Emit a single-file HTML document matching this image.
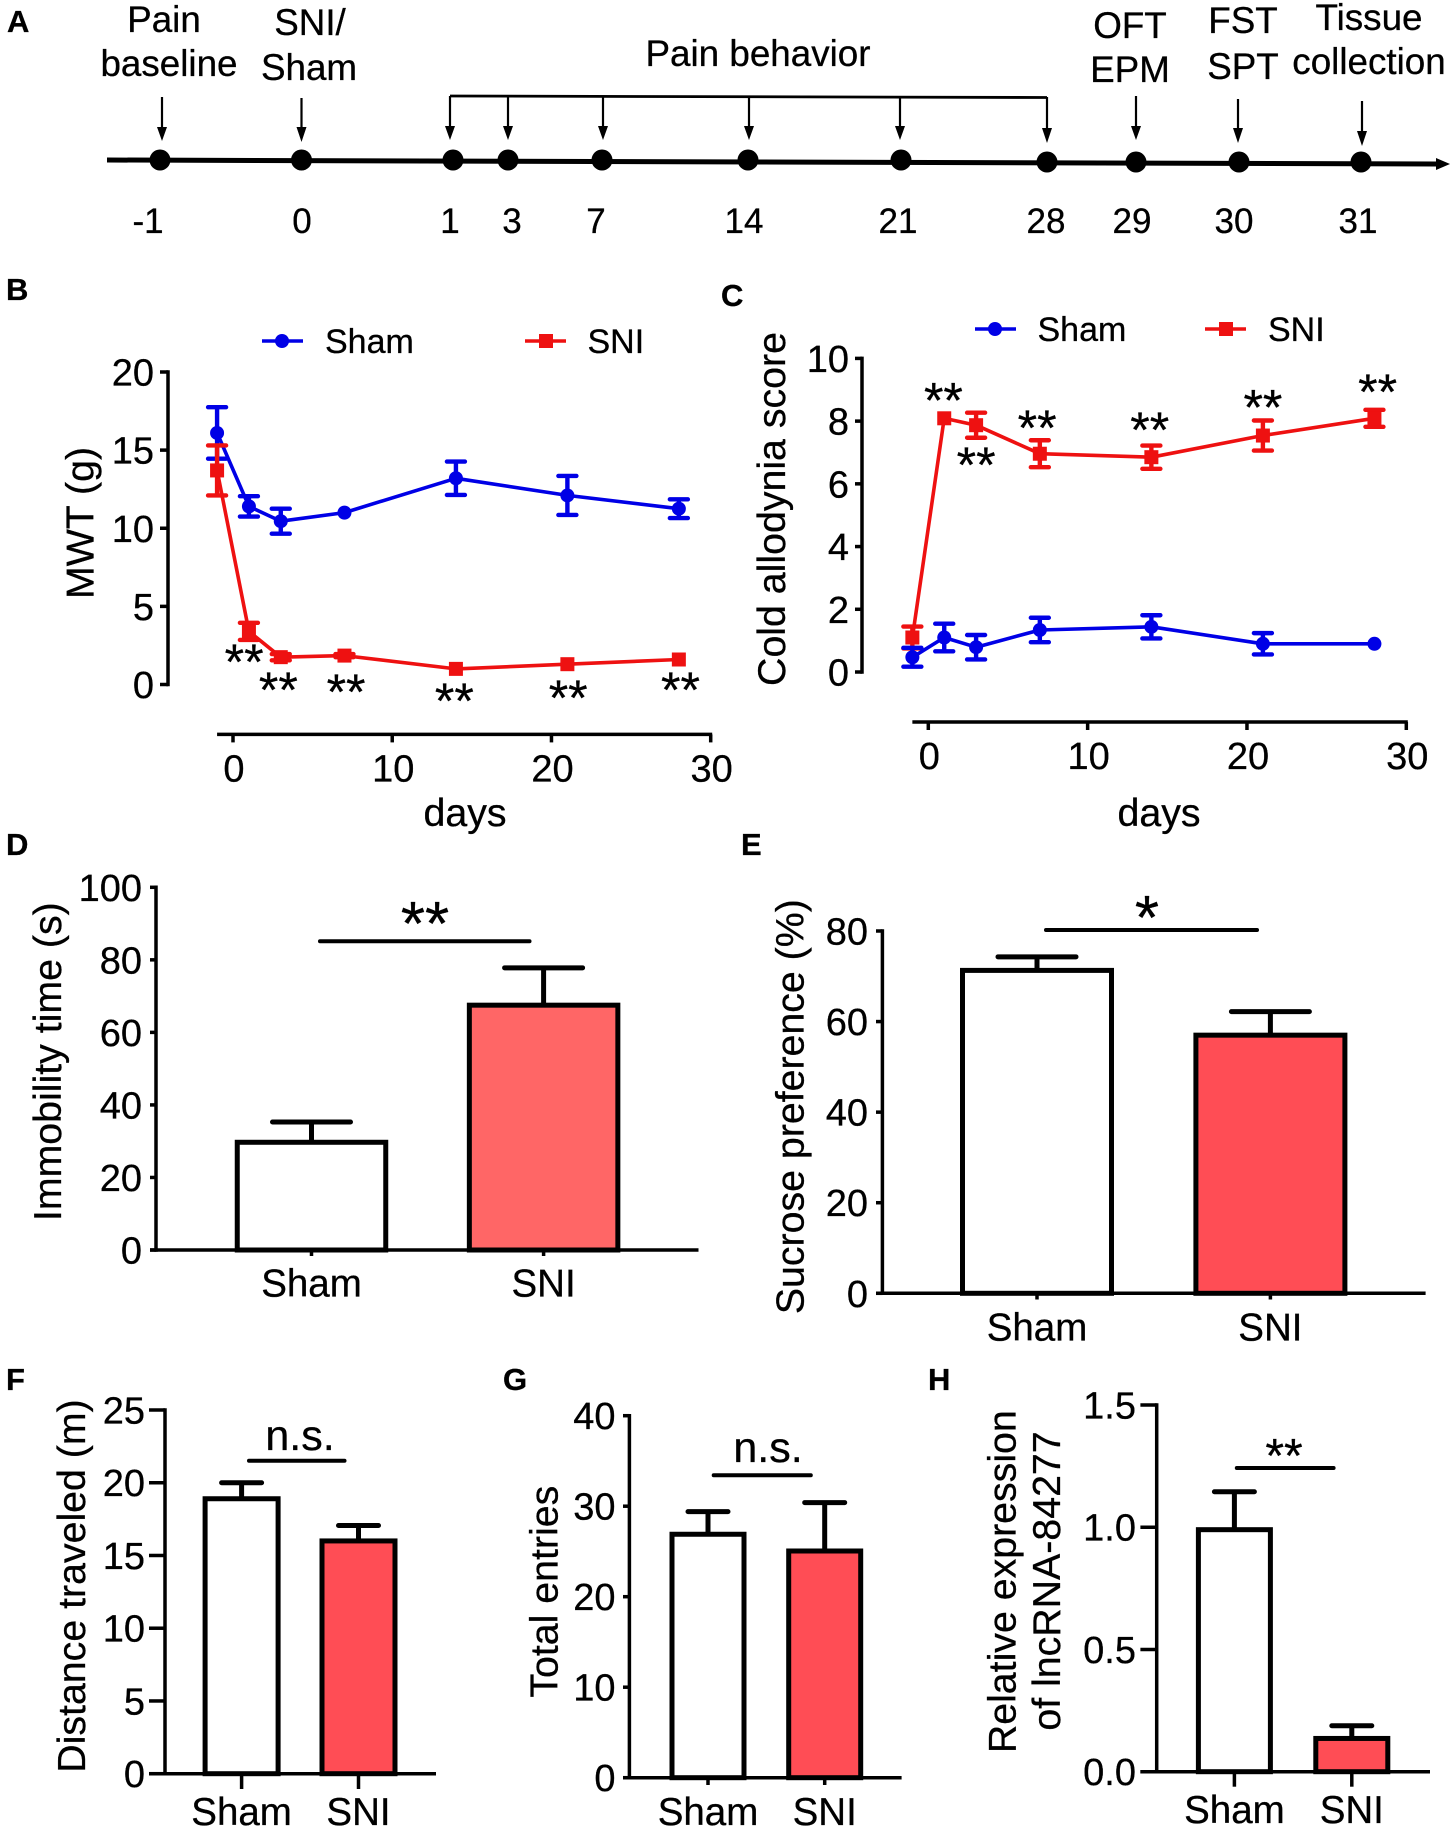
<!DOCTYPE html>
<html lang="en">
<head>
<meta charset="utf-8">
<title>SNI behavior figure</title>
<style>
html,body{margin:0;padding:0;background:#fff;}
svg{display:block;font-family:"Liberation Sans",Arial,sans-serif;fill:#000;}
text{stroke:#000;stroke-width:.3px;}
.pl{font-size:31px;font-weight:bold;}
.t{font-size:36.8px;}
.n{font-size:35px;text-anchor:middle;}
.c{text-anchor:middle;}
.title{font-size:39.3px;text-anchor:middle;}
.leg{font-size:34px;}
.ln{stroke:#000;fill:none;}
</style>
</head>
<body>
<svg id="figure" xmlns="http://www.w3.org/2000/svg" width="1450" height="1830" viewBox="0 0 1450 1830">
<rect width="1450" height="1830" fill="#fff"/>

<g>
<text class="pl" x="7" y="32">A</text>
<line class="ln" x1="107" y1="160" x2="1436" y2="164" stroke-width="5"/>
<polygon points="1436,158 1450,164 1436,170"/>
<line class="ln" x1="450" y1="96" x2="1047" y2="97.5" stroke-width="2.8"/>
<g stroke="#000" stroke-width="2.2" fill="#000">
<path d="M162 97V128"/><polygon points="157,127 167,127 162,141" stroke="none"/>
<path d="M301.500 98V128"/><polygon points="296.500,127 306.500,127 301.500,142" stroke="none"/>
<path d="M450 96V127"/><polygon points="445,126 455,126 450,140" stroke="none"/>
<path d="M508 96V127"/><polygon points="503,126 513,126 508,140" stroke="none"/>
<path d="M603 97V127"/><polygon points="598,126 608,126 603,140" stroke="none"/>
<path d="M749 97V127"/><polygon points="744,126 754,126 749,140" stroke="none"/>
<path d="M900 97V127"/><polygon points="895,126 905,126 900,140" stroke="none"/>
<path d="M1047 97V129"/><polygon points="1042,128 1052,128 1047,143" stroke="none"/>
<path d="M1136 96V127"/><polygon points="1131,126 1141,126 1136,140" stroke="none"/>
<path d="M1238 99V129"/><polygon points="1233,128 1243,128 1238,143" stroke="none"/>
<path d="M1362 101V132"/><polygon points="1357,131 1367,131 1362,146" stroke="none"/>
</g>
<g>
<ellipse cx="160" cy="160" rx="10.500" ry="10.500"/><ellipse cx="301.500" cy="160" rx="10.500" ry="10.500"/>
<ellipse cx="453" cy="160" rx="10.500" ry="10.500"/><ellipse cx="508" cy="160" rx="10.500" ry="10.500"/>
<ellipse cx="602" cy="160" rx="10.500" ry="10.500"/><ellipse cx="748" cy="160" rx="10.500" ry="10.500"/>
<ellipse cx="901" cy="160" rx="10.500" ry="10.500"/><ellipse cx="1047" cy="162" rx="10.500" ry="10.500"/>
<ellipse cx="1136" cy="162" rx="10.500" ry="10.500"/><ellipse cx="1239" cy="162" rx="10.500" ry="10.500"/>
<ellipse cx="1361" cy="162" rx="10.500" ry="10.500"/>
</g>
<text class="t c" x="164" y="32">Pain</text>
<text class="t c" x="169" y="76">baseline</text>
<text class="t c" x="310" y="35">SNI/</text>
<text class="t c" x="309" y="80">Sham</text>
<text class="t c" x="758" y="66">Pain behavior</text>
<text class="t c" x="1130" y="38">OFT</text>
<text class="t c" x="1130" y="82">EPM</text>
<text class="t c" x="1243" y="33">FST</text>
<text class="t c" x="1243" y="79">SPT</text>
<text class="t c" x="1369" y="30">Tissue</text>
<text class="t c" x="1369" y="74">collection</text>
<g>
<text class="n" x="148" y="233">-1</text><text class="n" x="302" y="233">0</text><text class="n" x="450" y="233">1</text>
<text class="n" x="512" y="233">3</text><text class="n" x="596" y="233">7</text><text class="n" x="744" y="233">14</text>
<text class="n" x="898" y="233">21</text><text class="n" x="1046" y="233">28</text><text class="n" x="1132" y="233">29</text>
<text class="n" x="1234" y="233">30</text><text class="n" x="1358" y="233">31</text>
</g>
</g>

<text class="pl" x="6" y="300">B</text>
<text class="pl" x="721" y="306">C</text>
<text class="pl" x="6" y="855">D</text>
<text class="pl" x="741" y="855">E</text>
<text class="pl" x="6" y="1390">F</text>
<text class="pl" x="503" y="1390">G</text>
<text class="pl" x="928" y="1390">H</text>

<g>
<line x1="262" y1="341" x2="303" y2="341" stroke="#0000e6" stroke-width="3.500"/><circle cx="282" cy="341" r="7" fill="#0000e6"/>
<text class="leg" x="325" y="353">Sham</text>
<line x1="525" y1="341" x2="566" y2="341" stroke="#ee1111" stroke-width="3.500"/><rect x="539" y="334" width="14" height="14" fill="#ee1111"/>
<text class="leg" x="587.500" y="353">SNI</text>
</g>
<g>
<line x1="975" y1="329" x2="1016" y2="329" stroke="#0000e6" stroke-width="3.500"/><circle cx="995" cy="329" r="7" fill="#0000e6"/>
<text class="leg" x="1037.500" y="341">Sham</text>
<line x1="1205" y1="329" x2="1246" y2="329" stroke="#ee1111" stroke-width="3.500"/><rect x="1219" y="322" width="14" height="14" fill="#ee1111"/>
<text class="leg" x="1268" y="341">SNI</text>
</g>

<text class="title" transform="translate(93.500 523) rotate(-90)">MWT (g)</text>
<text class="title" x="465" y="826">days</text>
<text class="title" transform="translate(785 509) rotate(-90)">Cold allodynia score</text>
<text class="title" x="1159" y="826">days</text>
<text class="title" transform="translate(61 1061.700) rotate(-90)">Immobility time (s)</text>
<text class="title" transform="translate(803.500 1106.700) rotate(-90)">Sucrose preference (%)</text>
<text class="title" transform="translate(85 1586) rotate(-90)">Distance traveled (m)</text>
<text class="title" transform="translate(557.700 1591.700) rotate(-90)">Total entries</text>
<text class="title" transform="translate(1015.600 1581.700) rotate(-90)">Relative expression</text>
<text class="title" transform="translate(1060 1581) rotate(-90)">of lncRNA-84277</text>

<line class="ln" x1="320" y1="941.300" x2="529.500" y2="941.300" stroke-width="4" stroke-linecap="round"/>
<text class="c" x="425" y="945" font-size="62">**</text>
<line class="ln" x1="1046" y1="930" x2="1257" y2="930" stroke-width="4" stroke-linecap="round"/>
<text class="c" x="1147" y="939" font-size="62">*</text>
<line class="ln" x1="249" y1="1460.700" x2="344.500" y2="1460.700" stroke-width="4" stroke-linecap="round"/>
<text class="c" x="300" y="1450" font-size="43">n.s.</text>
<line class="ln" x1="713.700" y1="1475.300" x2="810.800" y2="1475.300" stroke-width="4" stroke-linecap="round"/>
<text class="c" x="768" y="1462" font-size="43">n.s.</text>
<line class="ln" x1="1236.800" y1="1468" x2="1333.600" y2="1468" stroke-width="4" stroke-linecap="round"/>
<text class="c" x="1284" y="1472" font-size="48">**</text>

<g id="charts"></g>
</svg>

<script>
// ---- line chart data ----
const daysB = [-1, 1, 3, 7, 14, 21, 28];
const shamMeanB = [16.1, 11.4, 10.45, 11.0, 13.2, 12.1, 11.25];
const shamErrB = [1.65, 0.65, 0.8, 0, 1.07, 1.25, 0.6];
const sniMeanB = [13.7, 3.4, 1.75, 1.85, 1.0, 1.3, 1.6];
const sniErrB = [1.6, 0.55, 0.2, 0.1, 0, 0, 0];
const starDaysB = [0.7, 2.85, 7.1, 13.9, 21.05, 28.1];
const starLevelsB = [1.9, 0.1, -0.03, -0.6, -0.4, 0.1];
const xTicksB = [0, 10, 20, 30];
const yTicksB = [0, 5, 10, 15, 20];

const daysC = [-1, 1, 3, 7, 14, 21, 28];
const shamMeanC = [0.47, 1.1, 0.79, 1.34, 1.44, 0.9, 0.9];
const shamErrC = [0.3, 0.44, 0.39, 0.39, 0.37, 0.34, 0];
const sniMeanC = [1.1, 8.09, 7.87, 6.96, 6.85, 7.54, 8.09];
const sniErrC = [0.35, 0, 0.4, 0.43, 0.37, 0.48, 0.27];
const starDaysC = [0.95, 3.0, 6.83, 13.9, 21, 28.2];
const starLevelsC = [8.88, 6.82, 8.0, 7.94, 8.66, 9.15];
const xTicksC = [0, 10, 20, 30];
const yTicksC = [0, 2, 4, 6, 8, 10];

// ---- bar chart data ----
const groups = ['Sham', 'SNI'];
const meanD = [29.7, 67.5];
const errD = [5.6, 10.3];
const yTicksD = [0, 20, 40, 60, 80, 100];
const meanE = [71.3, 57];
const errE = [3.0, 5.2];
const yTicksE = [0, 20, 40, 60, 80];
const meanF = [18.9, 16.0];
const errF = [1.1, 1.06];
const yTicksF = [0, 5, 10, 15, 20, 25];
const meanG = [26.9, 25.05];
const errG = [2.5, 5.35];
const yTicksG = [0, 10, 20, 30, 40];
const meanH = [0.99, 0.136];
const errH = [0.155, 0.052];
const yTicksH = [0, 0.5, 1.0, 1.5];
const yTickLabelsH = ['0.0', '0.5', '1.0', '1.5'];

const NS = 'http://www.w3.org/2000/svg';
const root = document.getElementById('charts');

function mk(tag, attrs, parent) {
  const node = document.createElementNS(NS, tag);
  for (const k in attrs) node.setAttribute(k, attrs[k]);
  parent.appendChild(node);
  return node;
}
function linear(d0, d1, r0, r1) {
  return function (v) { return r0 + (v - d0) * (r1 - r0) / (d1 - d0); };
}

function drawYAxis(parent, y, ticks, labels, o) {
  const g = mk('g', {}, parent);
  
  
  const spine = mk('line', {x1: o.axisX, x2: o.axisX, y1: y(ticks[0]), y2: y(ticks[ticks.length - 1]), stroke: '#000', 'stroke-width': 3.5, 'stroke-linecap': 'square'}, g);
  
  
  ticks.forEach(function (v, i) {
    const tick = mk('line', {x1: o.tickX, x2: o.axisX, y1: y(v), y2: y(v), stroke: '#000', 'stroke-width': 3.5}, g);
    
    
    const lab = mk('text', {x: o.labelX, y: y(v) + 13.5, 'text-anchor': 'end', 'font-size': 38}, g);
    lab.textContent = labels[i];
    
    
  });
}

function drawSeries(parent, seriesName, xs, means, errs, x, y, color, marker) {
  const g = mk('g', {}, parent);
  
  
  const pts = xs.map(function (d, i) { return x(d).toFixed(1) + ',' + y(means[i]).toFixed(1); }).join(' ');
  const line = mk('polyline', {points: pts, fill: 'none', stroke: color, 'stroke-width': 3.6, 'stroke-linejoin': 'round'}, g);
  
  
  xs.forEach(function (d, i) {
    const cx = x(d), cy = y(means[i]);
    if (errs[i] > 0) {
      const hi = y(means[i] + errs[i]), lo = y(means[i] - errs[i]);
      const bar = mk('path', {d: 'M' + cx + ' ' + hi + 'V' + lo + 'M' + (cx - 9) + ' ' + hi + 'H' + (cx + 9) + 'M' + (cx - 9) + ' ' + lo + 'H' + (cx + 9), fill: 'none', stroke: color, 'stroke-width': 4.4, 'stroke-linecap': 'round'}, g);
      
      
    }
    let pt;
    if (marker === 'circle') {
      pt = mk('circle', {cx: cx, cy: cy, r: 7, fill: color}, g);
    } else {
      pt = mk('rect', {x: cx - 7, y: cy - 7, width: 14, height: 14, fill: color}, g);
    }
    
    
  });
}

function drawLineChart(panel, o, d) {
  const g = mk('g', {}, root);
  
  
  const x = linear(0, 30, o.x0, o.x30);
  const y = linear(d.yTicks[0], d.yTicks[d.yTicks.length - 1], o.y0, o.yTop);
  drawYAxis(g, y, d.yTicks, d.yTicks.map(String), {axisX: o.axisX, tickX: o.tickX, labelX: o.labelX});
  const xAxis = mk('line', {x1: x(-1), x2: x(30) + 1.5, y1: o.xAxisY, y2: o.xAxisY, stroke: '#000', 'stroke-width': 3.5}, g);
  
  
  d.xTicks.forEach(function (v) {
    const tick = mk('line', {x1: x(v), x2: x(v), y1: o.xAxisY, y2: o.xAxisY + 8, stroke: '#000', 'stroke-width': 3.5}, g);
    
    
    const lab = mk('text', {x: x(v) + 1, y: o.xLabelY, 'text-anchor': 'middle', 'font-size': 38}, g);
    lab.textContent = String(v);
    
    
  });
  d.order.forEach(function (key) {
    if (key === 'sham') drawSeries(g, 'series-sham', d.days, d.shamMean, d.shamErr, x, y, '#0000e6', 'circle');
    else drawSeries(g, 'series-sni', d.days, d.sniMean, d.sniErr, x, y, '#ee1111', 'square');
  });
  d.starDays.forEach(function (v, i) {
    const star = mk('text', {x: x(v), y: y(d.starLevels[i]) + 24, 'text-anchor': 'middle', 'font-size': 50}, g);
    star.textContent = '**';
    
    
  });
}

function drawBarChart(panel, o, means, errs, yTicks, labels) {
  const g = mk('g', {}, root);
  
  
  const y = linear(yTicks[0], yTicks[yTicks.length - 1], o.y0, o.yTop);
  const xBand = function (i) { return o.c0 + i * o.step; };
  means.forEach(function (m, i) {
    const cx = xBand(i);
    const top = y(m), hi = y(m + errs[i]);
    const stem = mk('path', {d: 'M' + cx + ' ' + top + 'V' + hi + 'M' + (cx - o.cap / 2) + ' ' + hi + 'H' + (cx + o.cap / 2), fill: 'none', stroke: '#000', 'stroke-width': 5, 'stroke-linecap': 'round'}, g);
    
    
    const bar = mk('rect', {x: cx - o.barW / 2, y: top, width: o.barW, height: o.y0 - top, fill: i === 0 ? '#ffffff' : o.fill, stroke: '#000', 'stroke-width': 5}, g);
    
    
    const tick = mk('line', {x1: cx, x2: cx, y1: o.y0, y2: o.tickBottom, stroke: '#000', 'stroke-width': 3.5}, g);
    
    
    const lab = mk('text', {x: cx, y: o.xLabelY, 'text-anchor': 'middle', 'font-size': 38.5}, g);
    lab.textContent = groups[i];
    
    
  });
  const xAxis = mk('line', {x1: o.tickX, x2: o.xEnd, y1: o.y0, y2: o.y0, stroke: '#000', 'stroke-width': 3.5}, g);
  
  
  drawYAxis(g, y, yTicks, labels || yTicks.map(String), {axisX: o.axisX, tickX: o.tickX, labelX: o.labelX});
}

drawLineChart('panel-b-mwt-chart',
  {x0: 233, x30: 710.7, y0: 684.5, yTop: 372, axisX: 168, tickX: 160, labelX: 154, xAxisY: 734.4, xLabelY: 781.5},
  {days: daysB, shamMean: shamMeanB, shamErr: shamErrB, sniMean: sniMeanB, sniErr: sniErrB, starDays: starDaysB, starLevels: starLevelsB, xTicks: xTicksB, yTicks: yTicksB, order: ['sham', 'sni']});
drawLineChart('panel-c-cold-allodynia-chart',
  {x0: 928.3, x30: 1406.3, y0: 672, yTop: 358.4, axisX: 862, tickX: 855, labelX: 849, xAxisY: 722, xLabelY: 769},
  {days: daysC, shamMean: shamMeanC, shamErr: shamErrC, sniMean: sniMeanC, sniErr: sniErrC, starDays: starDaysC, starLevels: starLevelsC, xTicks: xTicksC, yTicks: yTicksC, order: ['sni', 'sham']});

drawBarChart('panel-d-immobility-chart',
  {y0: 1250, yTop: 887.3, axisX: 156, tickX: 150, labelX: 142, c0: 311.5, step: 232.1, barW: 148.5, cap: 78, fill: '#ff6666', xEnd: 698.5, tickBottom: 1256, xLabelY: 1296.7}, meanD, errD, yTicksD);
drawBarChart('panel-e-sucrose-chart',
  {y0: 1293.3, yTop: 931, axisX: 882.4, tickX: 876, labelX: 868, c0: 1037, step: 233.4, barW: 149, cap: 78, fill: '#ff4d55', xEnd: 1425.6, tickBottom: 1299.5, xLabelY: 1340.7}, meanE, errE, yTicksE);
drawBarChart('panel-f-distance-chart',
  {y0: 1773.7, yTop: 1410, axisX: 165, tickX: 149, labelX: 145, c0: 241.6, step: 116.9, barW: 73, cap: 40, fill: '#ff4d55', xEnd: 436, tickBottom: 1789, xLabelY: 1825}, meanF, errF, yTicksF);
drawBarChart('panel-g-entries-chart',
  {y0: 1777.7, yTop: 1415.7, axisX: 629.4, tickX: 623, labelX: 615.5, c0: 708, step: 116.7, barW: 72, cap: 40, fill: '#ff4d55', xEnd: 901.6, tickBottom: 1785, xLabelY: 1825}, meanG, errG, yTicksG);
drawBarChart('panel-h-expression-chart',
  {y0: 1771.7, yTop: 1405, axisX: 1156.7, tickX: 1140.4, labelX: 1136, c0: 1234.4, step: 117.4, barW: 72, cap: 40, fill: '#ff4d55', xEnd: 1430, tickBottom: 1786.7, xLabelY: 1823}, meanH, errH, yTicksH, yTickLabelsH);
</script>
</body>
</html>
